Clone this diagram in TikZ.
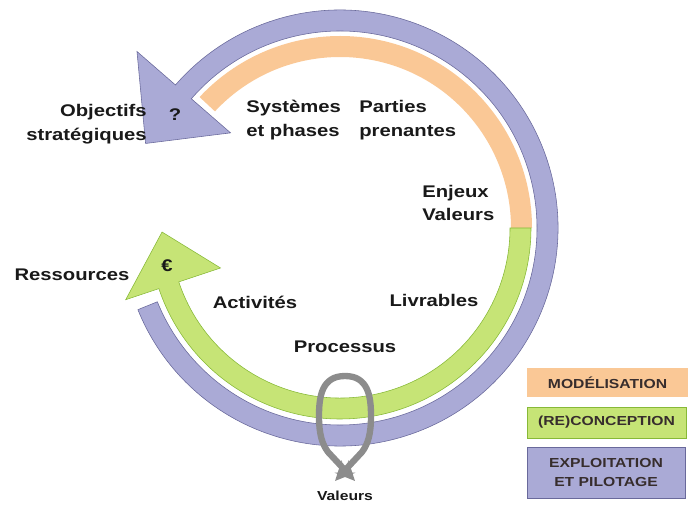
\documentclass[tikz,border=0pt]{standalone}
\usepackage{fontspec}
\setmainfont[FakeStretch=1.2]{Liberation Sans}
\usetikzlibrary{calc, arrows.meta}

\definecolor{modfill}{RGB}{250,200,150}
\definecolor{confill}{RGB}{198,228,118}
\definecolor{condraw}{RGB}{135,185,55}
\definecolor{expfill}{RGB}{170,170,214}
\definecolor{expdraw}{RGB}{105,105,155}
\definecolor{loopgray}{RGB}{140,140,140}
\definecolor{txt}{RGB}{25,25,25}
\definecolor{lgdtxt}{RGB}{55,45,45}

\tikzset{
  lbl/.style={font=\fontsize{12}{17}\selectfont\bfseries, text=txt, inner sep=0pt},
  small/.style={font=\fontsize{9.3}{13}\selectfont\bfseries, text=txt, inner sep=0pt},
  lgd/.style={font=\fontsize{9.3}{13}\selectfont\bfseries, text=lgdtxt, inner sep=0pt, align=center},
  loopline/.style={draw=loopgray, line width=4.5pt, -{Stealth[length=14pt, width=13pt, inset=5pt]}}
}

\begin{document}
\begin{tikzpicture}[x=0.025cm, y=0.025cm]
\useasboundingbox (0,0) rectangle (688,506);
\coordinate (c) at (340,278);

%bands
\fill[modfill] ($(c)+(0:192)$) arc[start angle=0, end angle=137, radius=192]
  -- ($(c)+(137:171)$) arc[start angle=137, end angle=0, radius=171] -- cycle;
\filldraw[fill=confill, draw=condraw] ($(c)+(0:191)$) arc[start angle=0, end angle=-161.5, radius=191]
  -- ($(c)+(198.5:226)$) -- ($(c)+(181.3:178)$) -- ($(c)+(198.5:126)$)
  -- ($(c)+(198.5:170)$) arc[start angle=-161.5, end angle=0, radius=170] -- cycle;
\filldraw[fill=expfill, draw=expdraw] ($(c)+(-158:218)$) arc[start angle=-158, end angle=139, radius=218]
  -- ($(c)+(139:269)$) -- ($(c)+(156.5:212)$) -- ($(c)+(139:145)$)
  -- ($(c)+(139:197)$) arc[start angle=139, end angle=-158, radius=197] -- cycle;

%loop
\coordinate (looptop) at (345,130);
\coordinate (loopl) at (355,25);
\coordinate (loopr) at (335,25);
\draw[loopline] (looptop) .. controls (322,130) and (319,110) .. (319,90)
  .. controls (319,72) and (322,62) .. (328,54) -- (loopl);
\draw[loopline] (looptop) .. controls (368,130) and (371,110) .. (371,90)
  .. controls (371,72) and (368,62) .. (362,54) -- (loopr);

%labels
\node[lbl, anchor=east, align=right] (obj) at (147,382) {Objectifs\\strat\'egiques};
\node[lbl] (ques) at (175,391) {?};
\node[lbl, anchor=west, align=left] (sys) at (246,386) {Syst\`emes\\et phases};
\node[lbl, anchor=west, align=left] (par) at (359,386) {Parties\\prenantes};
\node[lbl, anchor=west, align=left] (enj) at (422,303) {Enjeux\\Valeurs};
\node[lbl] (res) at (72,231) {Ressources};
\node[lbl] (eur) at (167,240) {€};
\node[lbl] (act) at (255,204) {Activit\'es};
\node[lbl] (liv) at (434,206) {Livrables};
\node[lbl] (pro) at (345,159) {Processus};
\node[small] (val) at (345,10) {Valeurs};

%legend
\node[lgd, fill=modfill, minimum width=4.025cm, minimum height=0.725cm] (mod) at (607.5,123.5) {MOD\'ELISATION};
\node[lgd, fill=confill, draw=condraw, minimum width=3.975cm, minimum height=0.775cm] (con) at (606.5,83.5) {(RE)CONCEPTION};
\node[lgd, fill=expfill, draw=expdraw, minimum width=3.95cm, minimum height=1.275cm] (exp) at (606,33.5) {EXPLOITATION\\ET PILOTAGE};
\end{tikzpicture}
\end{document}
